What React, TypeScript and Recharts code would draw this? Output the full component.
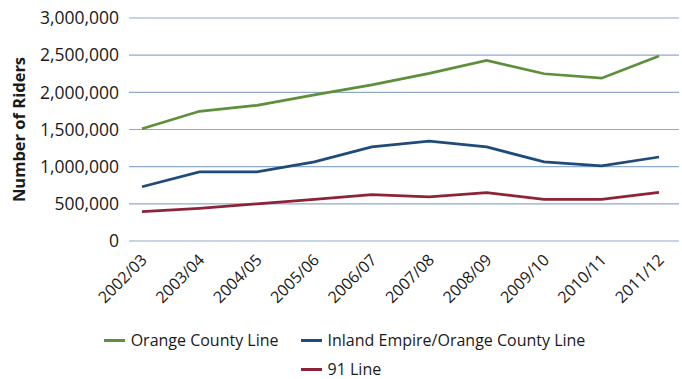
import { LineChart, Line, XAxis, YAxis, CartesianGrid, Legend } from "recharts";

const years = ["2002/03", "2003/04", "2004/05", "2005/06", "2006/07", "2007/08", "2008/09", "2009/10", "2010/11", "2011/12"];
const orangeCounty = [1510000, 1745000, 1825000, 1965000, 2100000, 2255000, 2430000, 2250000, 2190000, 2490000];
const inlandEmpire = [730000, 930000, 930000, 1065000, 1265000, 1345000, 1265000, 1065000, 1010000, 1130000];
const line91 = [395000, 440000, 500000, 560000, 625000, 595000, 650000, 560000, 560000, 655000];
const yTicks = [0, 500000, 1000000, 1500000, 2000000, 2500000, 3000000];

const series = [
  { key: "oc", name: "Orange County Line", color: "#5E8F3A", values: orangeCounty },
  { key: "ie", name: "Inland Empire/Orange County Line", color: "#1F4B7A", values: inlandEmpire },
  { key: "l91", name: "91 Line", color: "#8C2336", values: line91 },
];

const data = years.map((year, i) => {
  const row: Record<string, string | number> = { year };
  series.forEach((s) => (row[s.key] = s.values[i]));
  return row;
});

const FONT = "'Open Sans', sans-serif";

// x labels are rotated 45deg, ending at the tick
const XTick = ({ x, y, payload }: any) => (
  <text
    x={x}
    y={y}
    dx={6}
    dy={12}
    transform={`rotate(-45, ${x + 6}, ${y + 12})`}
    textAnchor="end"
    fontSize={16}
    fontFamily={FONT}
    fill="#1a1a1a"
  >
    {payload.value}
  </text>
);

const LegendItem = ({ name, color }: { name: string; color: string }) => (
  <div style={{ display: "flex", alignItems: "center", whiteSpace: "nowrap" }}>
    <span style={{ display: "inline-block", width: 21, height: 3, background: color, marginRight: 6 }} />
    <span>{name}</span>
  </div>
);

const renderLegend = () => (
  <div
    style={{
      display: "grid",
      gridTemplateColumns: "auto auto",
      columnGap: 22,
      rowGap: 7,
      justifyContent: "center",
      fontFamily: FONT,
      fontSize: 16,
      color: "#1a1a1a",
      height: 56,
      paddingTop: 6,
      paddingLeft: 10,
      lineHeight: "22px",
      boxSizing: "border-box",
    }}
  >
    <LegendItem name={series[0].name} color={series[0].color} />
    <LegendItem name={series[1].name} color={series[1].color} />
    <div />
    <LegendItem name={series[2].name} color={series[2].color} />
  </div>
);

export default function App() {
  return (
    <div style={{ position: "absolute", left: 0, top: 0 }}>
      <LineChart width={682} height={379} data={data} margin={{ top: 18, right: 3, left: 0, bottom: 0 }}>
        <CartesianGrid vertical={false} stroke="#8FAACB" strokeWidth={1.2} />
        <XAxis
          dataKey="year"
          axisLine={false}
          tickLine={false}
          tick={<XTick />}
          interval={0}
          height={82}
          padding={{ left: 13, right: 20 }}
        />
        <YAxis
          width={129}
          domain={[0, 3000000]}
          ticks={yTicks}
          axisLine={false}
          tickLine={false}
          tickMargin={4}
          tickFormatter={(v: number) => v.toLocaleString("en-US")}
          tick={{ fontSize: 17.5, fontFamily: FONT, fill: "#1a1a1a" }}
          label={{
            value: "Number of Riders",
            angle: -90,
            position: "insideLeft",
            offset: 19,
            style: { textAnchor: "middle", fontWeight: "bold", fontSize: 16.5, fontFamily: FONT, fill: "#1a1a1a" },
          }}
        />
        <Legend verticalAlign="bottom" content={renderLegend} />
        {series.map((s) => (
          <Line
            key={s.key}
            type="linear"
            dataKey={s.key}
            name={s.name}
            stroke={s.color}
            strokeWidth={2.75}
            dot={false}
            isAnimationActive={false}
          />
        ))}
      </LineChart>
    </div>
  );
}
